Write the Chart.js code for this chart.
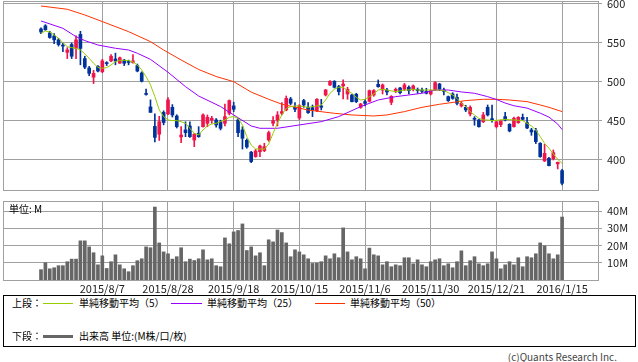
<!DOCTYPE html>
<html><head><meta charset="utf-8">
<script src="https://cdn.jsdelivr.net/npm/chart.js@4.4.1/dist/chart.umd.min.js"></script>
<style>
html,body{margin:0;padding:0;background:#fff;}
#wrap{position:relative;width:638px;height:362px;overflow:hidden;font-family:'Noto Sans CJK JP',sans-serif;color:#000;}
canvas{position:absolute;left:0;}
#c1{top:0;}
#c2{top:192px;}
.t{position:absolute;white-space:nowrap;font-size:10px;line-height:12px;}
.ln{position:absolute;}
#legend{position:absolute;left:3px;top:295px;width:633px;height:52px;border:1px solid #000;box-sizing:border-box;}
</style></head><body>
<div id="wrap">
<canvas id="c1" width="638" height="192"></canvas>
<canvas id="c2" width="638" height="103"></canvas>
<div class="t" style="left:9px;top:203px;">単位: M</div>
<div id="legend"></div>
<div class="t" style="left:12px;top:297px;">上段：</div>
<div class="ln" style="left:43px;top:303px;width:30px;height:1px;background:#99CC00;"></div>
<div class="t" style="left:79px;top:297px;">単純移動平均（5）</div>
<div class="ln" style="left:171px;top:303px;width:31px;height:1px;background:#9900FF;"></div>
<div class="t" style="left:207px;top:297px;">単純移動平均（25）</div>
<div class="ln" style="left:315px;top:303px;width:30px;height:1px;background:#FF3300;"></div>
<div class="t" style="left:350px;top:297px;">単純移動平均（50）</div>
<div class="t" style="left:12px;top:330px;">下段：</div>
<div class="ln" style="left:43px;top:335px;width:30px;height:3px;background:#666;"></div>
<div class="t" style="left:79px;top:330px;">出来高 単位:(M株/口/枚)</div>
<div class="t" style="right:21px;top:351px;color:#444;">(c)Quants Research Inc.</div>
</div>
<script>
// ---- data ----
const tickIdx = [14, 29, 44, 59, 74, 89, 104, 119];
const tickLabels = ['2015/8/7','2015/8/28','2015/9/18','2015/10/15','2015/11/6','2015/11/30','2015/12/21','2016/1/15'];
const priceTicks = [400, 450, 500, 550, 600];
const volTicks = [10, 20, 30, 40];

const openP = [568,572,563,559,554,547,538,548,543,561,530,518,506,520,513,524.5,527,529.5,524,528,526,525,521,511.5,485,468,443,433,461,459,467.5,456.4,429.5,438.5,443.6,425.6,434.2,442.7,447,451.3,451.3,449,447,459.8,469.3,451.3,438.5,425.2,410,404.3,410.6,412,425.6,447,451.3,459.8,464.1,478.2,467.5,453.8,476.1,467.5,467.1,463.2,469.3,483.3,496.2,500.9,494,494.9,484.6,483.3,484.2,467.5,474.8,475.2,483.3,497,489.7,489.7,473.9,488.9,492.3,490.6,493.2,490.6,490.6,489.7,488,484.6,489.7,497.4,489.7,481.2,484.6,480.3,469.3,467.5,459,453.4,451.3,449,467.5,453,442.7,445.3,455.6,445.7,442.7,447.9,454.7,447.9,438.5,437.6,421.4,398.7,402.1,401.7,395,386.3];
const highP = [569.5,573.5,565,562,556,550,544,550,559,565,533,520,515,521,529,526,535,537,532,529,528,535,523,513,491,477,459,456,463,480,471,458,442.7,449,449,434,442.7,459,457.7,456,453,451,471.8,477,474,453.4,442.7,427,411,413.7,419.2,421.4,437,455.6,462,473.5,482,480.3,473.5,471,477.8,473.5,470.5,478.6,477.8,490.6,501.7,501.7,495.7,502.6,493.2,484.2,485.5,472.6,477.8,489.7,490.2,502.6,497.4,491.9,482.5,492.3,493.2,498.3,494.9,496.2,492.3,492.3,491.9,489.7,500.4,498.3,492.3,482,486.3,484.6,474.8,470.1,469.3,455.6,452.1,461,470.5,470.5,449.5,451.3,461,446.6,455,455.6,458.9,454.7,440.6,440.6,422.2,420,403.4,412.8,397.4,388];
const lowP = [562,566,556,549,546,539,530,530,530,522,517,508,498,513,512,521,526,522,524,521,522,524,513,500,483,461,423,425,445,458,455,441,422.2,429.9,429,417.1,429,442,442.7,447,442,438.5,443.6,457.7,462,429.9,414,415,396.5,403.4,404.3,410.6,424,443.6,443.6,457.7,463,470.9,462,451.7,467.5,459.8,455.6,461.9,464.1,482,495.3,492.3,483.3,478.2,477.8,474.4,473.5,466.2,469.3,474.4,481.6,493.2,484.6,483.3,470.9,486.3,484.6,488.9,484.6,488.5,485.5,486.3,484.6,483.3,489,488.9,483.3,475,477.8,470.5,467.9,462,456.4,444.5,441.9,447.9,456.4,448.6,441,442.7,450,436,441.9,447,451.3,440.2,431.6,421,403.4,398,392.3,400,388.5,367.9];
const closeP = [564,567,557,554,548,546,541,533,554,543,519,511,511,514,527,523.5,533,527,531,524,525,527,514,501,484,461,429,449,448,477,457.7,442.7,432,435,429.9,432.9,429.9,457.7,454.7,453.4,444.9,440.6,455.6,476.1,465,435,427.8,416.7,398,411.5,417.9,417,435,450.4,457.7,462,479,472.6,465,469.7,470.5,460.7,464.1,477.8,467.5,489.7,500.9,493.2,487.6,497.4,490.6,474.8,474.8,471.8,472.6,488.9,488.9,494,496.2,487.2,481.6,490.6,486.3,496.2,488.9,494.9,488.9,488,485.5,488.9,499.1,490.6,488,476.1,479,472.6,472.6,464.1,467.5,452.1,442.7,457.7,457.7,450.4,449,450,451.3,437.2,453.4,454.7,452.1,441,435.9,423.5,404.3,408.5,392.7,409.4,397,370.1];
const volume = [6.0,10.0,6.5,7.1,8.3,8.3,10.6,12.1,12.1,22.7,22.7,19.2,15.8,8.8,14.0,6.7,10.6,14.6,8.8,6.5,4.8,8.3,11.2,12.3,19.2,18.7,42.3,21.5,16.3,15.2,12.1,13.5,18.7,10.6,12.1,11.3,12.3,17.5,11.7,12.3,8.3,7.7,24.4,21.0,27.9,28.7,32.5,17.1,19.2,14.0,15.8,8.3,23.3,22.1,29.0,27.5,21.5,13.5,17.5,16.3,14.6,12.3,9.6,9.8,10.6,14.0,12.3,15.2,12.9,30.2,16.3,11.7,13.5,12.3,6.5,18.5,14.6,14.0,8.8,10.6,7.7,8.8,8.3,12.9,12.9,9.4,11.7,8.8,7.7,10.6,11.7,12.3,8.3,9.4,7.1,10.6,16.9,8.3,11.2,13.5,9.4,8.3,9.4,16.3,12.3,6.5,8.8,10.6,8.8,12.9,7.7,13.5,12.9,15.2,21.5,19.8,15.2,12.3,14.6,36.5];
const ma5 = [562.4,565.4,564,560.3,556,550.4,545.3,544,543.2,541,536,530.3,524,518.8,517.5,518.4,521.8,526,527.8,527.8,527.4,525.6,521.8,515.4,506.8,496.2,481.2,464.1,455.6,451.3,450.4,450.4,449.1,447,440.6,434.2,432.1,438.5,443.6,446.2,447,449.1,451.3,454.7,455.6,453.4,444.9,429.9,419.2,414.1,414.1,413.7,420.5,434.2,447,457.7,466.2,468.4,469.2,469.2,468.4,467.5,468.4,469.2,470.5,476.9,485.5,490.6,493.2,493.2,488.9,485.5,480.3,476.9,477.8,481.2,484.6,489.7,490.6,489.7,488.5,487.6,488.5,489.7,489.7,490.6,489.7,489.7,489.7,489.7,489.7,489.7,488.9,486.3,483.3,479,472.6,468.4,462,457.7,453.4,451.3,451.3,450.4,450.9,451.3,452.1,451.7,451.3,450.9,450.4,447,443.6,438.5,429.9,421.4,415,407.7,400.9,395.7];
// MA25 / MA50 read at selected candles: [index, value]
const ma25 = [[0,578.2],[5,568.8],[8,558.1],[10,553],[13,547.4],[17,543.2],[20,541],[22,536.8],[25,529],[29,512.5],[33,494],[36,482],[41,468.5],[44,457.7],[48,443.6],[50,440.6],[54,440.6],[59,444.9],[64,449.1],[68,455.6],[73,468.4],[77,476.9],[81,481.2],[84,483.3],[87,485.5],[90,489.7],[93,489.7],[96,487.2],[99,485.5],[102,481.2],[104,477.5],[106,473],[108,469.5],[111,466.5],[114,460],[116,455],[118,446],[119,439]];
const ma50 = [[0,597.4],[6,593.2],[10,585.9],[14,577.4],[20,564.5],[25,551.7],[28,541],[32,528.2],[36,516],[40,507],[44,500.4],[48,487],[52,477.8],[55,471.5],[61,464],[67,459.8],[71,457.7],[76,456.4],[79,457.7],[83,462],[87,467.5],[91,471.4],[97,476.1],[101,477.8],[104,477.8],[107,476.9],[111,474.8],[114,470.5],[116,467.5],[119,462]];

// ---- styling ----
const UP = '#F0144A', DOWN = '#003399', GRID = '#a0a0a0';
Chart.defaults.font.family = "'Noto Sans CJK JP', sans-serif";
Chart.defaults.font.size = 11;
Chart.defaults.color = '#222';

const idx = openP.map((_, i) => i);
const candleColors = idx.map(i => closeP[i] >= openP[i] ? UP : DOWN);
const X_MIN = -8.68, X_MAX = 127.2;

const boxPlugin = {
  id: 'box',
  afterDatasetsDraw(chart) {
    const a = chart.chartArea, ctx = chart.ctx;
    ctx.save();
    ctx.strokeStyle = GRID; ctx.lineWidth = 1;
    ctx.strokeRect(Math.round(a.left) + 0.5, Math.round(a.top) + 0.5, Math.round(a.right - a.left), Math.round(a.bottom - a.top));
    ctx.restore();
  }
};
function fixY(w){ return s => { s.width = w; s.paddingTop = 0; s.paddingBottom = 0; }; }

const xBase = (showLabels, h) => ({
  type: 'linear', min: X_MIN, max: X_MAX, offset: false,
  grid: { color: GRID, drawTicks: false, offset: false },
  border: { display: false },
  afterBuildTicks: s => { s.ticks = tickIdx.map(v => ({ value: v })); },
  afterFit: s => { s.height = h; s.paddingLeft = 0; s.paddingRight = 0; },
  ticks: { display: showLabels, autoSkip: false, maxRotation: 0, padding: 2,
    callback: v => { const k = tickIdx.indexOf(v); return k >= 0 ? tickLabels[k] : ''; } }
});

new Chart(document.getElementById('c1'), {
  type: 'bar',
  data: { datasets: [
    { type: 'line', data: ma5.map((v, i) => ({ x: i, y: v })), borderColor: '#99CC00', borderWidth: 1, pointRadius: 0, order: 0 },
    { type: 'line', data: ma25.map(p => ({ x: p[0], y: p[1] })), borderColor: '#9900FF', borderWidth: 1, pointRadius: 0, order: 0 },
    { type: 'line', data: ma50.map(p => ({ x: p[0], y: p[1] })), borderColor: '#FF3300', borderWidth: 1, pointRadius: 0, order: 0 },
    { type: 'bar', data: idx.map(i => ({ x: i, y: [openP[i], closeP[i]] })), backgroundColor: candleColors, barThickness: 3, minBarLength: 1, grouped: false, order: 1 },
    { type: 'bar', data: idx.map(i => ({ x: i, y: [lowP[i], highP[i]] })), backgroundColor: candleColors, barThickness: 1, grouped: false, order: 2 }
  ]},
  options: {
    responsive: false, animation: false, devicePixelRatio: 1,
    layout: { padding: { top: 1, left: 3, right: 0, bottom: 2 } },
    plugins: { legend: { display: false }, tooltip: { enabled: false } },
    scales: {
      x: xBase(false, 0),
      y: { position: 'right', min: 361.5, max: 603.8,
        grid: { color: GRID, tickLength: 4 }, border: { display: false },
        afterBuildTicks: s => { s.ticks = priceTicks.map(v => ({ value: v })); },
        afterFit: fixY(40),
        ticks: { padding: 5, callback: v => String(v) } }
    }
  },
  plugins: [boxPlugin]
});

new Chart(document.getElementById('c2'), {
  type: 'bar',
  data: { datasets: [
    { data: idx.map(i => ({ x: i, y: volume[i] })), backgroundColor: '#666666', barThickness: 3, grouped: false }
  ]},
  options: {
    responsive: false, animation: false, devicePixelRatio: 1,
    layout: { padding: { top: 9, left: 3, right: 0, bottom: 0 } },
    plugins: { legend: { display: false }, tooltip: { enabled: false } },
    scales: {
      x: xBase(true, 15),
      y: { position: 'right', min: 0, max: 45.8,
        grid: { color: GRID, tickLength: 4 }, border: { display: false },
        afterBuildTicks: s => { s.ticks = volTicks.map(v => ({ value: v })); },
        afterFit: fixY(40),
        ticks: { padding: 5, callback: v => v + 'M' } }
    }
  },
  plugins: [boxPlugin]
});
</script>
</body></html>
